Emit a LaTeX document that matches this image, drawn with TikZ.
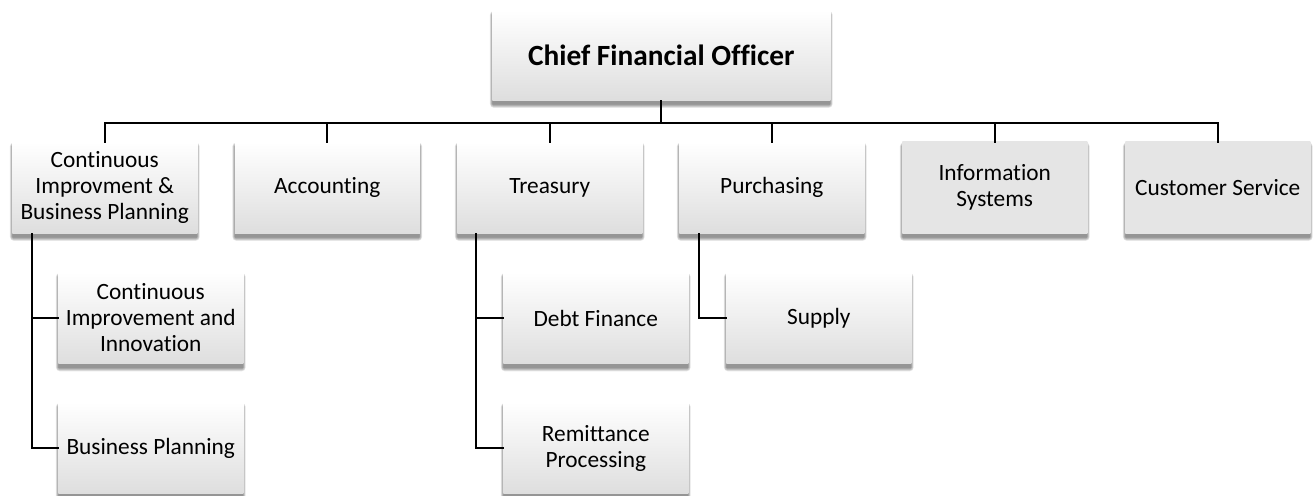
\documentclass[tikz,border=0pt]{standalone}
\usepackage{fontspec}
\setmainfont{Carlito}[Ligatures=NoCommon]
\usetikzlibrary{backgrounds}
\begin{document}
\begin{tikzpicture}[x=0.75pt,y=-0.75pt]
\useasboundingbox (0,0) rectangle (1315,496);
\tikzset{
  box/.style={draw=none, top color=white, bottom color=black!13,
    minimum width=138.75pt, minimum height=68.6pt, align=center,
    anchor=north west, inner sep=1pt,
    font=\fontsize{17.5}{19.5}\selectfont},
  flat/.style={box, top color=black!10, bottom color=black!10},
  link/.style={line width=1.5pt, line cap=rect},
  shade layer/.style={fill=black, opacity=0.085}
}
\node[box, minimum width=253.5pt, minimum height=67.5pt,
      font=\bfseries\fontsize{22}{26}\selectfont] (cfo) at (492,10) {Chief Financial Officer};

\node[box] (cip) at (12,141.5) {Continuous\\Improvment \&\\Business Planning};
\node[box] (acc) at (234.5,141.5) {Accounting};
\node[box] (tre) at (457,141.5) {Treasury};
\node[box] (pur) at (679,141.5) {Purchasing};
\node[flat] (inf) at (902,141.5) {Information\\Systems};
\node[flat] (cus) at (1125,141.5) {Customer Service};

\node[box] (cii) at (58,272) {Continuous\\Improvement and\\Innovation};
\node[box] (bpl) at (58,402) {Business Planning};
\node[box] (deb) at (503,272) {Debt Finance};
\node[box] (rem) at (503,402) {Remittance\\Processing};
\node[box] (sup) at (726,272) {Supply};

\begin{pgfonlayer}{background}
\foreach \n in {cfo,cip,acc,tre,pur,inf,cus,cii,bpl,deb,rem,sup}{
  \foreach \k in {0.4,0.9,1.4,1.9,2.4,2.9}{
    \fill[shade layer, rounded corners=\k pt]
      ([xshift={-0.75*\k pt+0.6pt}, yshift={-3.6pt+\k pt}]\n.north west) rectangle
      ([xshift={0.75*\k pt-0.6pt}, yshift={-2.6pt-\k pt}]\n.south east);
  }
}
\end{pgfonlayer}

\coordinate (bus) at (0,122.5);
\draw[link] (cfo.south) -- (cfo.south |- bus);
\draw[link] (cip.north) -- (cip.north |- bus) -- (cus.north |- bus) -- (cus.north);
\foreach \n in {acc,tre,pur,inf}{
  \draw[link] (\n.north) -- (\n.north |- bus);
}
\draw[link] ([xshift=15pt]cip.south west) |- (cii.west);
\draw[link] ([xshift=15pt]cip.south west) |- (bpl.west);
\draw[link] ([xshift=14.25pt]tre.south west) |- (deb.west);
\draw[link] ([xshift=14.25pt]tre.south west) |- (rem.west);
\draw[link] ([xshift=15pt]pur.south west) |- (sup.west);
\end{tikzpicture}
\end{document}
